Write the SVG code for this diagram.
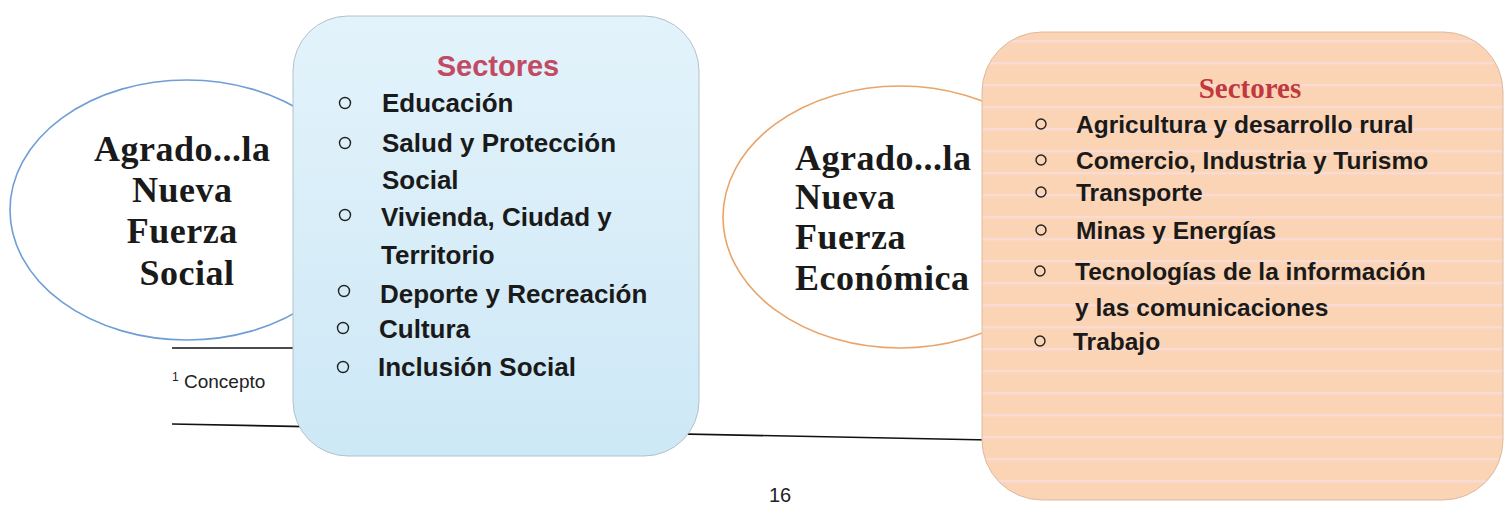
<svg xmlns="http://www.w3.org/2000/svg" width="1507" height="506" viewBox="0 0 1507 506">
<defs>
<linearGradient id="blueFill" x1="0" y1="0" x2="0" y2="1">
<stop offset="0" stop-color="#e3f3fb"/>
<stop offset="1" stop-color="#cde8f6"/>
</linearGradient>
<pattern id="stripes" x="0" y="32" width="20" height="22" patternUnits="userSpaceOnUse">
<rect width="20" height="22" fill="#fbd4b5"/>
<rect y="8" width="20" height="2.5" fill="#fadbd3"/>
</pattern>
<style>
.serif{font-family:"Liberation Serif","Times New Roman",serif;font-weight:bold;fill:#1a1a1a;}
.big{font-size:36px;letter-spacing:0.5px;}
.item{font-family:"Liberation Sans",Arial,sans-serif;font-weight:bold;fill:#1a1a1a;}
.l{font-size:26px;}
.r{font-size:24.5px;}
.bul{fill:none;stroke:#222;stroke-width:1.4;}
.rule{stroke:#111;stroke-width:1.6;fill:none;}
</style>
</defs>
<rect width="1507" height="506" fill="#ffffff"/>

<g id="connectors">
<line class="rule" x1="172" y1="348" x2="300" y2="348"/>
<line class="rule" x1="172" y1="424" x2="990" y2="440"/>
</g>

<g id="footnote">
<text x="172" y="388" font-family="Liberation Sans,Arial,sans-serif" font-size="19" fill="#222"><tspan font-size="12" dy="-7">1</tspan><tspan dy="7"> Concepto</tspan></text>
</g>

<g id="ellipse-social">
<ellipse cx="187" cy="210" rx="177" ry="130" fill="#ffffff" stroke="#6f9ed6" stroke-width="1.6"/>
<text class="serif big" text-anchor="middle">
<tspan x="187" y="161">Agrado...la</tspan>
<tspan x="187" y="202">Nueva</tspan>
<tspan x="187" y="243">Fuerza</tspan>
<tspan x="187" y="285">Social</tspan>
</text>
</g>

<g id="box-social">
<rect x="293" y="16" width="406" height="440" rx="55" fill="url(#blueFill)" stroke="#b3c2ca" stroke-width="1"/>
<text x="498" y="76" text-anchor="middle" font-family="Liberation Sans,Arial,sans-serif" font-weight="bold" font-size="29" fill="#c24a63">Sectores</text>
<circle class="bul" cx="345" cy="103" r="5.5"/>
<circle class="bul" cx="345" cy="143" r="5.5"/>
<circle class="bul" cx="345" cy="215" r="5.5"/>
<circle class="bul" cx="344" cy="291" r="5.5"/>
<circle class="bul" cx="343" cy="328" r="5.5"/>
<circle class="bul" cx="343" cy="367" r="5.5"/>
<text class="item l">
<tspan x="382" y="112">Educación</tspan>
<tspan x="382" y="152">Salud y Protección</tspan>
<tspan x="382" y="189">Social</tspan>
<tspan x="381" y="226">Vivienda, Ciudad y</tspan>
<tspan x="381" y="264">Territorio</tspan>
<tspan x="380" y="303">Deporte y Recreación</tspan>
<tspan x="379" y="338">Cultura</tspan>
<tspan x="378" y="376">Inclusión Social</tspan>
</text>
</g>

<g id="ellipse-economica">
<ellipse cx="900" cy="217" rx="177" ry="131" fill="#ffffff" stroke="#e9a46a" stroke-width="1.6"/>
<text class="serif big">
<tspan x="795" y="170">Agrado...la</tspan>
<tspan x="795" y="209">Nueva</tspan>
<tspan x="795" y="249">Fuerza</tspan>
<tspan x="795" y="290">Económica</tspan>
</text>
</g>

<g id="box-economica">
<rect x="982" y="32" width="521" height="468" rx="60" fill="url(#stripes)" stroke="#dcbaa0" stroke-width="1"/>
<text x="1250" y="98" text-anchor="middle" font-family="Liberation Serif,Times New Roman,serif" font-weight="bold" font-size="29" fill="#c0393f">Sectores</text>
<circle class="bul" cx="1041" cy="124" r="5"/>
<circle class="bul" cx="1041" cy="160" r="5"/>
<circle class="bul" cx="1041" cy="192" r="5"/>
<circle class="bul" cx="1041" cy="230" r="5"/>
<circle class="bul" cx="1040" cy="271" r="5"/>
<circle class="bul" cx="1040" cy="341" r="5"/>
<text class="item r">
<tspan x="1076" y="133">Agricultura y desarrollo rural</tspan>
<tspan x="1076" y="169">Comercio, Industria y Turismo</tspan>
<tspan x="1076" y="201">Transporte</tspan>
<tspan x="1076" y="239">Minas y Energías</tspan>
<tspan x="1075" y="280">Tecnologías de la información</tspan>
<tspan x="1075" y="316">y las comunicaciones</tspan>
<tspan x="1073" y="350">Trabajo</tspan>
</text>
</g>

<g id="page-number">
<text x="780" y="502" text-anchor="middle" font-family="Liberation Sans,Arial,sans-serif" font-size="20" fill="#222">16</text>
</g>
</svg>
